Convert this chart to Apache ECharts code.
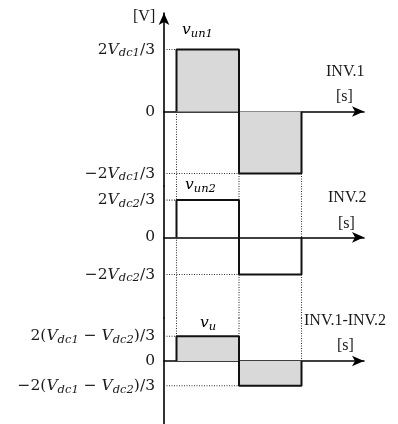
<!DOCTYPE html>
<html>
<head>
<meta charset="utf-8">
<script src="https://cdn.jsdelivr.net/npm/echarts@6/dist/echarts.min.js"></script>
<style>
  html, body { margin: 0; padding: 0; background: #fff; }
  #chart { width: 398px; height: 424px; }
</style>
</head>
<body>
<div id="chart"></div>
<script>
// Pulse edges on the time axis (start, polarity change, end)
const edges = [0.2, 1.2, 2.2];
// Pulse amplitudes, in units of 2Vdc1/3: INV.1, INV.2 and their difference
const levels = [1, 0.6, 0.4];
// Which panels have shaded pulses
const shaded = [true, false, true];
// Tick label text (rich-text markup) for +level, 0, -level in each panel
const tickLabels = [
  ['{n|2}{i|V}{s|dc1}{n|/3}', '{n|0}', '{n|−2}{i|V}{s|dc1}{n|/3}'],
  ['{n|2}{i|V}{s|dc2}{n|/3}', '{n|0}', '{n|−2}{i|V}{s|dc2}{n|/3}'],
  ['{n|2(}{i|V}{s|dc1}{n| − }{i|V}{s|dc2}{n|)/3}', '{n|0}', '{n|−2(}{i|V}{s|dc1}{n| − }{i|V}{s|dc2}{n|)/3}']
];
const panelNames = ['INV.1', 'INV.2', 'INV.1-INV.2'];
const signalNames = [
  '{i|v}{s|un1}', '{i|v}{s|un2}', '{i|v}{s|u}'
];

// Layout: pixel rows of each panel's zero line and panel boundaries
const PX_PER_UNIT = 62;
const zeroY = [111.5, 237.3, 361];
const bounds = [13, 186, 318, 424];
const axisX = 164;
const xMax = 3.2;
const PX_PER_T = 62.5;

const mathRich = {
  n: { fontFamily: 'DejaVu Serif', fontSize: 15.5, color: '#1a1a1a', lineHeight: 20 },
  i: { fontFamily: 'DejaVu Serif', fontStyle: 'italic', fontSize: 15.5, color: '#1a1a1a', lineHeight: 20 },
  s: { fontFamily: 'DejaVu Serif', fontStyle: 'italic', fontSize: 11.5, color: '#1a1a1a', lineHeight: 9, verticalAlign: 'bottom' }
};

const grids = [], xAxes = [], yAxes = [], series = [];

for (let p = 0; p < 3; p++) {
  const top = bounds[p], bottom = bounds[p + 1];
  const yMaxV = (zeroY[p] - top) / PX_PER_UNIT;
  const yMinV = -(bottom - zeroY[p]) / PX_PER_UNIT;
  const L = levels[p];
  const [t0, t1, t2] = edges;

  grids.push({ left: axisX, top: top, height: bottom - top, width: xMax * PX_PER_T });
  xAxes.push({
    gridIndex: p, type: 'value', min: 0, max: xMax,
    axisLine: { onZero: true, symbol: ['none', 'arrow'], symbolSize: [8, 12], symbolOffset: [0, 0],
      lineStyle: { color: '#000', width: 1.6 } },
    axisTick: { show: false }, axisLabel: { show: false }, splitLine: { show: false }
  });
  yAxes.push({
    gridIndex: p, type: 'value', min: yMinV, max: yMaxV,
    axisLine: { show: true, onZero: false,
      symbol: p === 0 ? ['none', 'arrow'] : ['none', 'none'],
      symbolSize: [8, 12], symbolOffset: [0, 0],
      lineStyle: { color: '#000', width: 1.6 } },
    axisTick: { show: false },
    splitLine: { show: false },
    axisLabel: {
      show: true, margin: 9,
      customValues: [L, 0, -L],
      formatter: function (v) {
        if (Math.abs(v) < 1e-9) return tickLabels[p][1];
        return v > 0 ? tickLabels[p][0] : tickLabels[p][2];
      },
      rich: mathRich
    }
  });

  // Square-wave trace: positive half then negative half
  series.push({
    type: 'line', xAxisIndex: p, yAxisIndex: p, symbol: 'none', silent: true, z: 5,
    data: [[t0, 0], [t0, L], [t1, L], [t1, -L], [t2, -L], [t2, 0]],
    lineStyle: { color: '#111', width: 2 },
    areaStyle: shaded[p] ? { color: '#d9d9d9', opacity: 1, origin: 0 } : null
  });

  // Dotted guide lines from the level ticks to the pulse edges
  const dot = { color: '#333', width: 1.1, type: [1, 1.5] };
  const guides = [
    [[0, L], [t0, L]],
    [[0, -L], [t1, -L]]
  ];
  // Vertical guides through the panel, where the trace does not cover them
  if (p === 0) {
    guides.push([[t0, 0], [t0, yMinV]], [[t1, -L], [t1, yMinV]], [[t2, -L], [t2, yMinV]]);
  } else if (p === 1) {
    guides.push([[t0, yMaxV], [t0, L]], [[t0, 0], [t0, yMinV]],
                [[t1, yMaxV], [t1, L]], [[t1, -L], [t1, yMinV]],
                [[t2, yMaxV], [t2, 0]], [[t2, -L], [t2, yMinV]]);
  } else {
    guides.push([[t0, yMaxV], [t0, L]], [[t1, yMaxV], [t1, L]], [[t2, yMaxV], [t2, 0]]);
  }
  guides.forEach(function (seg) {
    series.push({
      type: 'line', xAxisIndex: p, yAxisIndex: p, symbol: 'none', silent: true, z: 2,
      data: seg, lineStyle: dot
    });
  });
}

const serif = { fontFamily: 'Liberation Serif', fontSize: 16, fill: '#1a1a1a' };
const graphic = [
  { type: 'text', left: 133, top: 9, style: Object.assign({ text: '[V]' }, serif) },
  { type: 'text', left: 326, top: 64, style: Object.assign({ text: panelNames[0] }, serif) },
  { type: 'text', left: 336, top: 89, style: Object.assign({ text: '[s]' }, serif) },
  { type: 'text', left: 328, top: 190, style: Object.assign({ text: panelNames[1] }, serif) },
  { type: 'text', left: 338, top: 216, style: Object.assign({ text: '[s]' }, serif) },
  { type: 'text', left: 304, top: 313, style: Object.assign({ text: panelNames[2] }, serif) },
  { type: 'text', left: 337, top: 338, style: Object.assign({ text: '[s]' }, serif) },
  { type: 'text', left: 182, top: 22, style: { text: signalNames[0], rich: mathRich } },
  { type: 'text', left: 185, top: 177, style: { text: signalNames[1], rich: mathRich } },
  { type: 'text', left: 200, top: 315, style: { text: signalNames[2], rich: mathRich } }
];

const chart = echarts.init(document.getElementById('chart'), null, { renderer: 'canvas' });
chart.setOption({
  animation: false,
  backgroundColor: '#fff',
  grid: grids,
  xAxis: xAxes,
  yAxis: yAxes,
  series: series,
  graphic: graphic
});
</script>
</body>
</html>
